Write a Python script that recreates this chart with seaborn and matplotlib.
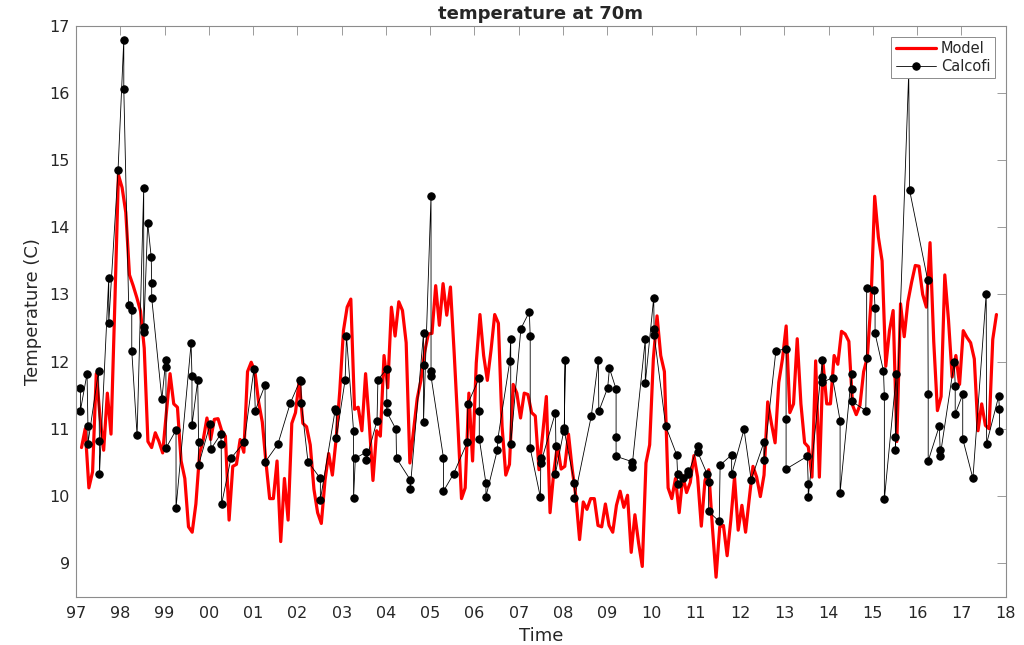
import numpy as np
import pandas as pd
import matplotlib
matplotlib.use("Agg")
import matplotlib.pyplot as plt
import seaborn as sns

# model: monthly values, first one is Feb 1997
model_start = 1997 + 1.5 / 12
model_temp = [
    10.72, 11.0, 10.12, 10.36, 11.82, 11.19, 10.68, 11.53, 10.92, 12.8, 14.78,                   # 1997
    14.59, 14.22, 13.29, 13.13, 12.95, 12.75, 12.2, 10.81, 10.72, 10.94, 10.81, 10.64,          # 1998
    11.24, 11.82, 11.37, 11.32, 10.52, 10.26, 9.54, 9.46, 9.88, 10.63, 10.84, 11.16,            # 1999
    10.84, 11.14, 11.15, 10.97, 10.89, 9.64, 10.44, 10.47, 10.84, 10.65, 11.85, 11.99,          # 2000
    11.85, 11.4, 11.1, 10.5, 9.96, 9.96, 10.52, 9.32, 10.26, 9.64, 11.08, 11.24,                # 2001
    11.72, 11.08, 11.03, 10.76, 10.1, 9.75, 9.59, 10.23, 10.63, 10.31, 10.84, 11.56,            # 2002
    12.46, 12.81, 12.93, 11.29, 11.32, 10.97, 11.82, 11.08, 10.23, 10.97, 10.89, 12.09,         # 2003
    11.61, 12.81, 12.38, 12.89, 12.76, 12.28, 10.49, 10.97, 11.45, 11.72, 12.14, 12.41,         # 2004
    12.42, 13.13, 12.54, 13.16, 12.69, 13.11, 12.14, 11.08, 9.96, 10.12, 11.53, 10.52,          # 2005
    11.98, 12.70, 12.09, 11.72, 12.17, 12.70, 12.57, 11.03, 10.31, 10.47, 11.66, 11.53,         # 2006
    11.16, 11.53, 11.51, 11.24, 11.19, 10.39, 10.92, 11.48, 9.75, 10.35, 10.75, 10.4,           # 2007
    10.44, 10.92, 10.4, 9.99, 9.35, 9.91, 9.80, 9.96, 9.96, 9.56, 9.54, 9.88,                   # 2008
    9.56, 9.46, 9.86, 10.07, 9.83, 10.01, 9.16, 9.72, 9.30, 8.95, 10.49, 10.76,                 # 2009
    12.04, 12.68, 12.09, 11.85, 10.12, 9.96, 10.26, 9.75, 10.3, 10.05, 10.2, 10.6,              # 2010
    10.28, 9.55, 10.23, 10.39, 9.54, 8.79, 9.54, 9.56, 9.11, 9.64, 10.28, 9.49,                 # 2011
    9.86, 9.46, 9.96, 10.44, 10.28, 9.99, 10.31, 11.40, 11.08, 10.79, 11.69, 12.04,             # 2012
    12.53, 11.24, 11.37, 12.34, 11.37, 10.79, 10.73, 10.28, 12.01, 10.28, 11.98, 11.37,         # 2013
    11.37, 12.09, 11.96, 12.45, 12.41, 12.30, 11.35, 11.21, 11.35, 11.85, 12.06, 12.9,          # 2014
    14.46, 13.85, 13.50, 11.93, 12.46, 12.76, 10.81, 12.86, 12.37, 12.89, 13.18, 13.43,         # 2015
    13.42, 13.0, 12.81, 13.77, 12.3, 11.27, 11.48, 13.29, 12.62, 11.77, 12.09, 11.66,           # 2016
    12.46, 12.36, 12.28, 12.04, 10.97, 11.37, 11.05, 11.0, 12.33, 12.70,                        # 2017
]

# calcofi casts (decimal year, temperature)
calcofi_time = [
    1997.10, 1997.10, 1997.25, 1997.27, 1997.27, 1997.51, 1997.53, 1997.53, 1997.74, 1997.74,
    1997.95, 1998.08, 1998.08, 1998.19, 1998.26, 1998.26, 1998.38, 1998.53, 1998.53, 1998.53,
    1998.62, 1998.70, 1998.71, 1998.71, 1998.94, 1999.03, 1999.03, 1999.04, 1999.26, 1999.26,
    1999.60, 1999.62, 1999.62, 1999.75, 1999.77, 1999.77, 2000.03, 2000.05, 2000.27, 2000.28,
    2000.29, 2000.50, 2000.80, 2001.02, 2001.05, 2001.27, 2001.28, 2001.56, 2001.84, 2002.07,
    2002.08, 2002.09, 2002.24, 2002.52, 2002.52, 2002.86, 2002.88, 2002.88, 2003.08, 2003.11,
    2003.27, 2003.27, 2003.31, 2003.55, 2003.56, 2003.80, 2003.82, 2004.02, 2004.02, 2004.02,
    2004.23, 2004.24, 2004.55, 2004.55, 2004.85, 2004.85, 2004.85, 2005.02, 2005.02, 2005.02,
    2005.30, 2005.30, 2005.53, 2005.84, 2005.85, 2006.11, 2006.11, 2006.11, 2006.26, 2006.26,
    2006.52, 2006.53, 2006.80, 2006.82, 2006.82, 2007.05, 2007.24, 2007.26, 2007.26, 2007.49,
    2007.50, 2007.50, 2007.83, 2007.84, 2007.83, 2008.03, 2008.05, 2008.03, 2008.26, 2008.26,
    2008.64, 2008.80, 2008.81, 2009.01, 2009.05, 2009.20, 2009.20, 2009.20, 2009.56, 2009.56,
    2009.86, 2009.86, 2010.05, 2010.06, 2010.06, 2010.32, 2010.57, 2010.59, 2010.59, 2010.72,
    2010.82, 2010.83, 2011.04, 2011.04, 2011.26, 2011.29, 2011.29, 2011.53, 2011.55, 2011.81,
    2011.81, 2012.09, 2012.25, 2012.54, 2012.54, 2012.81, 2013.04, 2013.04, 2013.04, 2013.52,
    2013.54, 2013.54, 2013.86, 2013.86, 2013.86, 2014.09, 2014.26, 2014.26, 2014.52, 2014.52,
    2014.52, 2014.84, 2014.86, 2014.86, 2015.03, 2015.05, 2015.05, 2015.24, 2015.26, 2015.26,
    2015.53, 2015.51, 2015.51, 2015.81, 2015.83, 2016.24, 2016.25, 2016.25, 2016.50, 2016.52,
    2016.52, 2016.84, 2016.86, 2016.86, 2017.03, 2017.03, 2017.26, 2017.56, 2017.57, 2017.84,
    2017.86, 2017.86,
]
calcofi_temp = [
    11.61, 11.27, 11.82, 11.04, 10.78, 11.86, 10.82, 10.32, 13.24, 12.57,
    14.85, 16.79, 16.06, 12.84, 12.77, 12.16, 10.90, 14.58, 12.52, 12.44,
    14.07, 13.55, 13.17, 12.95, 11.44, 12.03, 11.92, 10.72, 10.98, 9.82,
    12.27, 11.79, 11.05, 11.72, 10.80, 10.46, 11.07, 10.70, 10.92, 10.78,
    9.88, 10.56, 10.80, 11.89, 11.27, 11.65, 10.51, 10.77, 11.38, 11.73,
    11.71, 11.39, 10.51, 10.26, 9.94, 11.30, 11.27, 10.86, 11.73, 12.38,
    10.97, 9.97, 10.56, 10.65, 10.54, 11.12, 11.73, 11.89, 11.39, 11.25,
    10.99, 10.56, 10.24, 10.11, 12.42, 11.95, 11.10, 14.47, 11.86, 11.78,
    10.57, 10.07, 10.33, 10.80, 11.37, 11.76, 11.27, 10.85, 10.19, 9.99,
    10.69, 10.85, 12.01, 12.34, 10.77, 12.49, 12.74, 12.38, 10.71, 9.98,
    10.56, 10.49, 11.24, 10.75, 10.33, 11.01, 12.03, 10.97, 10.19, 9.97,
    11.19, 12.02, 11.26, 11.61, 11.90, 11.59, 10.88, 10.59, 10.51, 10.43,
    12.33, 11.68, 12.95, 12.49, 12.40, 11.04, 10.61, 10.32, 10.18, 10.26,
    10.37, 10.32, 10.74, 10.66, 10.32, 10.21, 9.77, 9.62, 10.46, 10.61,
    10.32, 10.99, 10.24, 10.80, 10.54, 12.16, 12.19, 11.14, 10.40, 10.59,
    10.18, 9.98, 12.02, 11.77, 11.69, 11.76, 11.12, 10.05, 11.82, 11.59,
    11.41, 11.27, 12.05, 13.10, 13.06, 12.79, 12.42, 11.86, 11.48, 9.95,
    11.81, 10.88, 10.69, 16.3, 14.55, 13.21, 11.52, 10.52, 11.04, 10.69,
    10.59, 12.00, 11.64, 11.22, 11.51, 10.85, 10.26, 13.01, 10.78, 11.48,
    11.30, 10.96,
]

year_ticks = list(range(1997, 2019))
temp_ticks = list(range(9, 18))

model = pd.DataFrame({
    "time": model_start + np.arange(len(model_temp)) / 12.0,
    "temp": model_temp,
})
calcofi = pd.DataFrame({"time": calcofi_time, "temp": calcofi_temp})

sns.set_style("white")
plt.rcParams["font.family"] = ["DejaVu Sans"]

axis_grey = "#8c8c8c"
text_grey = "#262626"

fig = plt.figure(figsize=(10.24, 6.45), dpi=100)
ax = fig.add_axes([0.0742, 0.0749, 0.9079, 0.8853])

sns.lineplot(data=model, x="time", y="temp", ax=ax, color="red", lw=2.3,
             estimator=None, sort=False, label="Model")
sns.lineplot(data=calcofi, x="time", y="temp", ax=ax, color="black", lw=0.6,
             marker="o", markersize=5.3, markeredgecolor="black",
             estimator=None, sort=False, label="Calcofi")

ax.set_xlim(1997, 2018)
ax.set_ylim(8.5, 17)
ax.set_xticks(year_ticks)
ax.set_xticklabels([f"{y % 100:02d}" for y in year_ticks])
ax.set_yticks(temp_ticks)

ax.tick_params(direction="in", length=6.5, width=0.6, top=True, right=True,
               colors=axis_grey, labelcolor=text_grey, labelsize=11.5)
ax.tick_params(axis="x", pad=7)
ax.tick_params(axis="y", pad=4.5)
for sp in ax.spines.values():
    sp.set_visible(True)
    sp.set_color(axis_grey)
    sp.set_linewidth(0.8)

ax.set_xlabel("Time", fontsize=13, color=text_grey, labelpad=4)
ax.set_ylabel("Temperature (C)", fontsize=13, color=text_grey, labelpad=5)
ax.set_title("temperature at 70m", fontsize=13, fontweight="bold", pad=5)

leg = ax.legend(loc="upper right", fontsize=10.5, frameon=True, fancybox=False,
                edgecolor=axis_grey, framealpha=1, borderaxespad=0.75,
                handlelength=2.8, handletextpad=0.3, borderpad=0.3,
                labelspacing=0.2)
leg.get_frame().set_linewidth(0.7)

fig.savefig("out.png", dpi=100)
